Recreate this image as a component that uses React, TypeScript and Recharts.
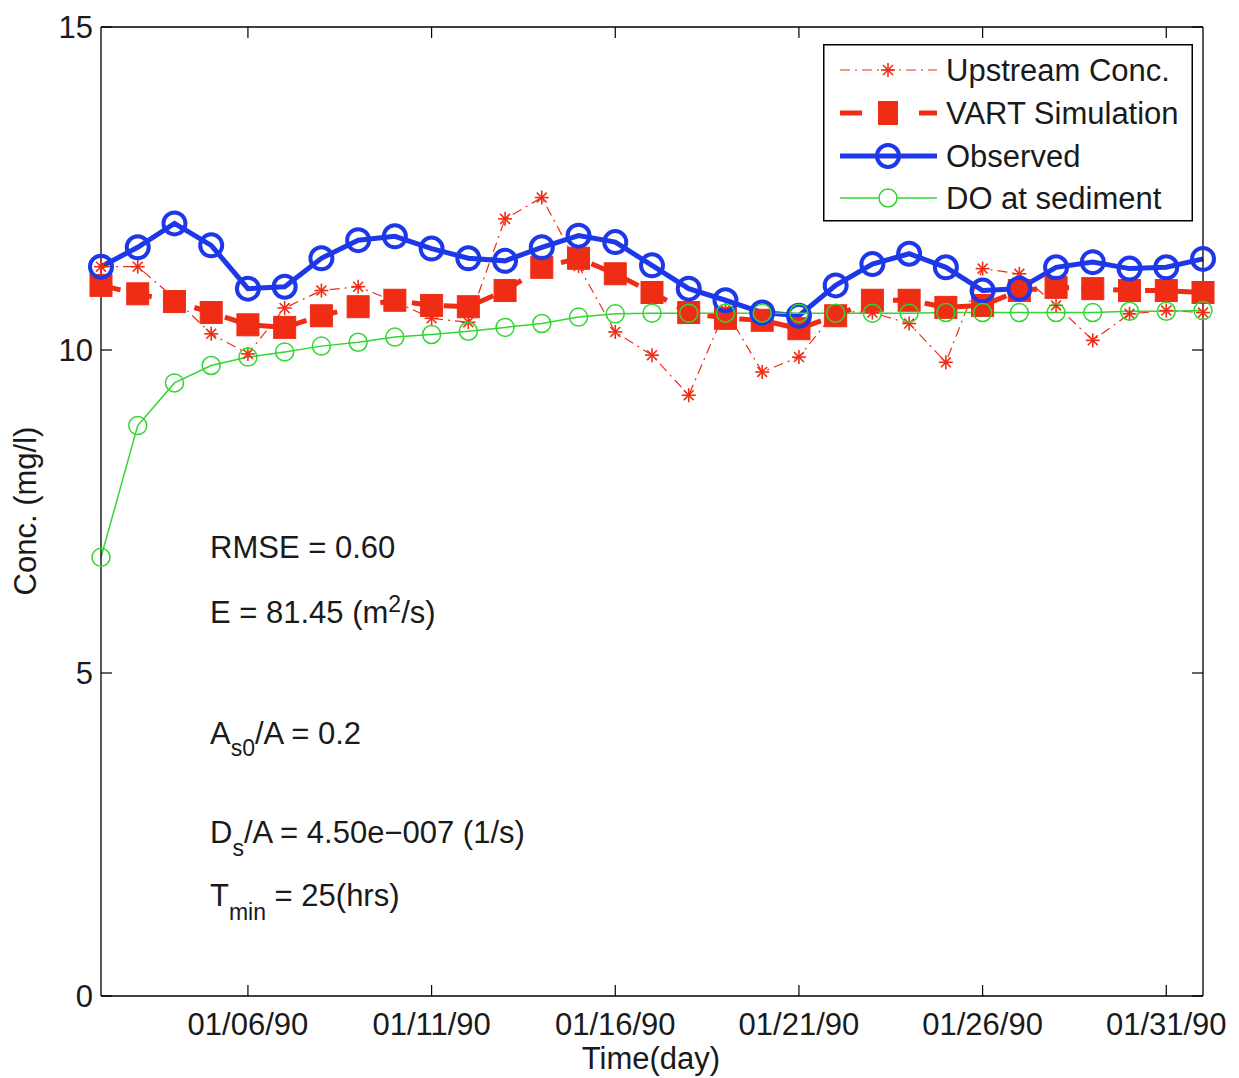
import React from 'react';
import { LineChart, Line, XAxis, YAxis, Legend, Customized } from 'recharts';

const dayNumbers = [2, 3, 4, 5, 6, 7, 8, 9, 10, 11, 12, 13, 14, 15, 16, 17, 18, 19, 20, 21, 22, 23, 24, 25, 26, 27, 28, 29, 30, 31, 32];
const upstreamConc = [11.29, 11.29, 10.8, 10.25, 9.94, 10.65, 10.92, 10.98, 10.75, 10.49, 10.43, 12.03, 12.36, 11.3, 10.28, 9.92, 9.3, 10.62, 9.66, 9.89, 10.6, 10.58, 10.41, 9.81, 11.26, 11.18, 10.69, 10.15, 10.56, 10.61, 10.58];
const vartSimulation = [11.0, 10.87, 10.75, 10.58, 10.39, 10.35, 10.53, 10.67, 10.77, 10.69, 10.67, 10.92, 11.28, 11.42, 11.18, 10.89, 10.58, 10.49, 10.46, 10.33, 10.53, 10.77, 10.77, 10.66, 10.69, 10.92, 10.97, 10.95, 10.92, 10.92, 10.89];
const observedConc = [11.29, 11.59, 11.96, 11.62, 10.95, 10.98, 11.42, 11.7, 11.76, 11.57, 11.42, 11.38, 11.59, 11.77, 11.67, 11.31, 10.95, 10.77, 10.58, 10.53, 11.0, 11.33, 11.49, 11.28, 10.92, 10.95, 11.28, 11.36, 11.26, 11.28, 11.41];
const doAtSediment = [6.79, 8.83, 9.49, 9.76, 9.89, 9.97, 10.06, 10.12, 10.2, 10.24, 10.29, 10.35, 10.41, 10.51, 10.56, 10.57, 10.57, 10.57, 10.57, 10.57, 10.57, 10.57, 10.57, 10.58, 10.58, 10.58, 10.58, 10.58, 10.6, 10.6, 10.61];

const xTickDays = [6, 11, 16, 21, 26, 31];
const xTickLabels = ['01/06/90', '01/11/90', '01/16/90', '01/21/90', '01/26/90', '01/31/90'];
const yTicks = [0, 5, 10, 15];

const seriesNames = ['Upstream Conc.', 'VART Simulation', 'Observed', 'DO at sediment'];

const data = dayNumbers.map((d, i) => ({
  day: d,
  upstream: upstreamConc[i],
  vart: vartSimulation[i],
  observed: observedConc[i],
  sediment: doAtSediment[i],
}));

const RED = '#ef2d14';
const BLUE = '#1c38e8';
const GREEN = '#33d633';
const TEXT = '#1a1a1a';
const FONT = '"Liberation Sans", Arial, Helvetica, sans-serif';
const FS = 31;

const Star = ({ cx, cy, r = 7 }: { cx: number; cy: number; r?: number }) => {
  const d = r * 0.707;
  return (
    <g stroke={RED} strokeWidth={1.6}>
      <line x1={cx - r} y1={cy} x2={cx + r} y2={cy} />
      <line x1={cx} y1={cy - r} x2={cx} y2={cy + r} />
      <line x1={cx - d} y1={cy - d} x2={cx + d} y2={cy + d} />
      <line x1={cx - d} y1={cy + d} x2={cx + d} y2={cy - d} />
    </g>
  );
};

const StarDot = (props: any) => {
  const { cx, cy, index } = props;
  if (cx == null || cy == null) return <g key={`st${index}`} />;
  return (
    <g key={`st${index}`}>
      <Star cx={cx} cy={cy} />
    </g>
  );
};

const SquareDot = (props: any) => {
  const { cx, cy, index } = props;
  if (cx == null || cy == null) return <g key={`sq${index}`} />;
  return <rect key={`sq${index}`} x={cx - 11} y={cy - 11} width={22} height={22} fill={RED} stroke={RED} strokeWidth={1} />;
};

const RingDot = (props: any) => {
  const { cx, cy, index } = props;
  if (cx == null || cy == null) return <g key={`rg${index}`} />;
  return <circle key={`rg${index}`} cx={cx} cy={cy} r={11} fill="none" stroke={BLUE} strokeWidth={4} />;
};

const GreenDot = (props: any) => {
  const { cx, cy, index } = props;
  if (cx == null || cy == null) return <g key={`gd${index}`} />;
  return <circle key={`gd${index}`} cx={cx} cy={cy} r={9} fill="none" stroke={GREEN} strokeWidth={1.5} />;
};

const LegendBox = () => {
  const rows = [26, 69, 112, 154];
  const x1 = 17;
  const x2 = 114;
  const mx = 65;
  return (
    <svg width={370} height={178} style={{ display: 'block' }}>
      <rect x={0.75} y={0.75} width={368.5} height={176} fill="#fff" stroke="#000" strokeWidth={1.5} />
      <line x1={x1} y1={rows[0]} x2={x2} y2={rows[0]} stroke={RED} strokeWidth={1.2} strokeDasharray="10 5 2 5" />
      <Star cx={mx} cy={rows[0]} />
      <line x1={x1} y1={rows[1]} x2={x1 + 22} y2={rows[1]} stroke={RED} strokeWidth={5} />
      <line x1={x2 - 18} y1={rows[1]} x2={x2} y2={rows[1]} stroke={RED} strokeWidth={5} />
      <rect x={mx - 10} y={rows[1] - 12} width={20} height={24} fill={RED} />
      <line x1={x1} y1={rows[2]} x2={x2} y2={rows[2]} stroke={BLUE} strokeWidth={5} />
      <circle cx={mx} cy={rows[2]} r={11} fill="none" stroke={BLUE} strokeWidth={4} />
      <line x1={x1} y1={rows[3]} x2={x2} y2={rows[3]} stroke={GREEN} strokeWidth={1.5} />
      <circle cx={mx} cy={rows[3]} r={9} fill="#fff" stroke={GREEN} strokeWidth={1.5} />
      {seriesNames.map((n, i) => (
        <text key={n} x={123} y={rows[i] + 11} fontSize={FS} fontFamily={FONT} fill={TEXT}>
          {n}
        </text>
      ))}
    </svg>
  );
};

const Annotations = () => (
  <g fontFamily={FONT} fill={TEXT} fontSize={FS}>
    <text x={210} y={558}>RMSE = 0.60</text>
    <text x={210} y={623}>
      E = 81.45 (m
      <tspan fontSize={23} dy={-11}>2</tspan>
      <tspan dy={11}>/s)</tspan>
    </text>
    <text x={210} y={744}>
      A
      <tspan fontSize={23} dy={12}>s0</tspan>
      <tspan dy={-12}>/A = 0.2</tspan>
    </text>
    <text x={210} y={843}>
      D
      <tspan fontSize={23} dy={13}>s</tspan>
      <tspan dy={-13}>/A = 4.50e−007 (1/s)</tspan>
    </text>
    <text x={210} y={906}>
      T
      <tspan fontSize={23} dy={14}>min</tspan>
      <tspan dy={-14}> = 25(hrs)</tspan>
    </text>
    <text x={651} y={1069} textAnchor="middle">Time(day)</text>
    <text x={36} y={511} textAnchor="middle" transform="rotate(-90, 36, 511)">Conc. (mg/l)</text>
  </g>
);

const labelForDay = (v: number) => {
  const i = xTickDays.indexOf(v);
  return i >= 0 ? xTickLabels[i] : '';
};

export default function App() {
  const tickStyle = { fill: TEXT, fontSize: FS, fontFamily: FONT };
  return (
    <div style={{ position: 'absolute', left: 0, top: 0, width: 1239, height: 1078, background: '#fff' }}>
      <LineChart width={1239} height={1078} data={data} margin={{ top: 26, right: 35, bottom: 32, left: 41 }}>
        <XAxis
          xAxisId="bottom"
          dataKey="day"
          type="number"
          domain={[2, 32]}
          ticks={xTickDays}
          tickFormatter={labelForDay}
          height={50}
          tickSize={-11}
          tickMargin={28}
          axisLine={{ stroke: '#000', strokeWidth: 1.3 }}
          tickLine={{ stroke: '#000', strokeWidth: 1.2 }}
          tick={tickStyle}
          interval={0}
        />
        <XAxis
          xAxisId="top"
          orientation="top"
          dataKey="day"
          type="number"
          domain={[2, 32]}
          ticks={xTickDays}
          tickFormatter={() => ''}
          height={1}
          tickSize={-11}
          tickMargin={0}
          axisLine={{ stroke: '#000', strokeWidth: 1.3 }}
          tickLine={{ stroke: '#000', strokeWidth: 1.2 }}
          interval={0}
          allowDataOverflow
        />
        <YAxis
          yAxisId="left"
          type="number"
          domain={[0, 15]}
          ticks={yTicks}
          width={60}
          tickSize={-11}
          tickMargin={19}
          axisLine={{ stroke: '#000', strokeWidth: 1.3 }}
          tickLine={{ stroke: '#000', strokeWidth: 1.2 }}
          tick={tickStyle}
          interval={0}
        />
        <YAxis
          yAxisId="right"
          orientation="right"
          type="number"
          domain={[0, 15]}
          ticks={yTicks}
          width={1}
          tickSize={-11}
          tickMargin={0}
          tickFormatter={() => ''}
          axisLine={{ stroke: '#000', strokeWidth: 1.3 }}
          tickLine={{ stroke: '#000', strokeWidth: 1.2 }}
          interval={0}
          allowDataOverflow
        />
        <Line
          xAxisId="bottom"
          yAxisId="left"
          dataKey="upstream"
          name={seriesNames[0]}
          type="linear"
          stroke={RED}
          strokeWidth={1.2}
          strokeDasharray="10 5 2 5"
          dot={StarDot}
          activeDot={false}
          isAnimationActive={false}
        />
        <Line
          xAxisId="bottom"
          yAxisId="left"
          dataKey="vart"
          name={seriesNames[1]}
          type="linear"
          stroke={RED}
          strokeWidth={5}
          strokeDasharray="20 12"
          dot={SquareDot}
          activeDot={false}
          isAnimationActive={false}
        />
        <Line
          xAxisId="bottom"
          yAxisId="left"
          dataKey="observed"
          name={seriesNames[2]}
          type="linear"
          stroke={BLUE}
          strokeWidth={5}
          dot={RingDot}
          activeDot={false}
          isAnimationActive={false}
        />
        <Line
          xAxisId="bottom"
          yAxisId="left"
          dataKey="sediment"
          name={seriesNames[3]}
          type="linear"
          stroke={GREEN}
          strokeWidth={1.5}
          dot={GreenDot}
          activeDot={false}
          isAnimationActive={false}
        />
        <Customized component={Annotations} />
        <Legend
          layout="horizontal"
          verticalAlign="middle"
          align="center"
          content={LegendBox}
          wrapperStyle={{ left: 823, top: 44, width: 370, height: 178 }}
        />
      </LineChart>
    </div>
  );
}
